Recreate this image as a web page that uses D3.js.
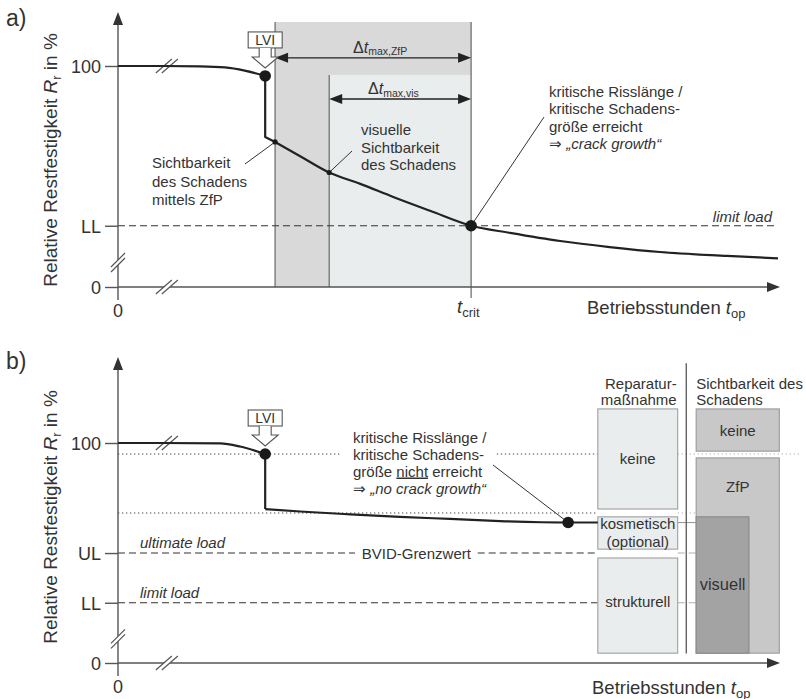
<!DOCTYPE html>
<html>
<head>
<meta charset="utf-8">
<script src="https://cdn.jsdelivr.net/npm/d3@7"></script>
<style>
  body { margin: 0; background: #fff; }
  text { font-family: "Liberation Sans", Arial, Helvetica, sans-serif; fill: #333; }
</style>
</head>
<body>
<svg id="chart" width="806" height="699"></svg>
<script>
// ---------------- data ----------------
// time axis: operating hours in % of the shown range; strength axis: relative residual strength R_r in %
const LL = 55;          // limit load level
const UL = 69;          // ultimate load level
const tLVI = 22.3;      // low velocity impact
const tZfP = 23.8;      // damage detectable by NDT (ZfP)
const tVis = 32.0;      // damage visually detectable
const tCrit = 53.5;     // critical damage size reached
const tBreak = 7.4;     // position of the axis break marks
const yTicksA = [0, LL, 100];
const yTickTextA = ["0", "LL", "100"];
const yTicksB = [0, LL, UL, 100];
const yTickTextB = ["0", "LL", "UL", "100"];

// panel a) strength degradation with crack growth
const preA  = [[0,100],[6.8,100],[12.4,99.9],[16.2,99.6],[19.2,98.7],[22.3,97.2]];
const dropA = [[22.3,97.2],[22.3,80.0],[23.8,78.6]];
const postA = [[23.8,78.6],[27.6,74.6],[32.0,70.0],[36.7,66.8],[41.7,63.1],[47.3,59.2],[53.5,55],
               [59.4,53.0],[67.0,50.7],[74.5,49.0],[82.1,47.6],[92.3,46.5],[100,45.8]];
const bigDotsA   = [[22.3,97.2],[53.5,55]];
const smallDotsA = [[23.8,78.6],[32.0,70.0]];
const shadeTopZfP = 112.4, shadeTopVis = 97.5;
const arrowRZfP = 102.3, arrowRVis = 90.7;

// panel b) no crack growth
const preB  = [[0,100],[6.8,100],[15.5,99.9],[18.5,99.0],[22.3,96.9]];
const dropB = [[22.3,96.9],[22.3,81.4]];
const postB = [[22.3,81.4],[27.6,80.7],[35.2,79.9],[42.7,79.2],[50.3,78.6],[57.9,78.0],[68.2,77.6],[72.7,77.6]];
const bigDotsB = [[22.3,96.9],[68.2,77.6]];
const levelPost = 80.3;   // strength level right after impact (dotted)

// repair measure / damage visibility columns
const repairLabels = [["keine"], ["kosmetisch","(optional)"], ["strukturell"]];
const repairT  = [72.7, 84.8];
const repairR  = [[81.4,109.6],[70.1,79.2],[40.8,67.6]];
const visLabels = ["keine", "ZfP", "visuell"];
const visT = [[87.6,100.2],[87.6,100.2],[87.6,95.6]];
const visR = [[97.7,109.6],[40.8,95.8],[40.8,79.2]];
const tSeparator = 86.1, separatorR = [40.7, 122.5];

// ---------------- scales ----------------
const svg = d3.select("#chart");
const xA = d3.scaleLinear().domain([0, 100]).range([118, 778]);
const yA = d3.scaleLinear().domain([0, 40, 100]).range([287, 279, 66]);
const xB = xA.copy();
const yB = d3.scaleLinear().domain([0, 40, 100]).range([663, 656, 443]);

const INK = "#222", AXIS = "#555";

// ---------------- helpers ----------------
function rich(g, x, y, parts, size, anchor) {
  const t = g.append("text").attr("x", x).attr("y", y)
    .attr("font-size", size).attr("text-anchor", anchor || "start");
  let shifted = 0;
  parts.forEach(p => {
    const sp = t.append("tspan").text(p.s);
    const want = p.sub ? p.shift : 0;
    if (want !== shifted) { sp.attr("dy", want - shifted); shifted = want; }
    if (p.size) sp.attr("font-size", p.size);
    if (p.it) sp.attr("font-style", "italic");
    if (p.u) sp.attr("text-decoration", "underline");
  });
  return t;
}
function lines(g, x, y0, rows, step, size, anchor) {
  rows.forEach((r, i) => {
    if (typeof r === "string") r = [{s: r}];
    rich(g, x, y0 + i * step, r, size, anchor);
  });
}
function breakMark(g, cx, cy, vertical) {
  const pts = vertical
    ? [[cx - 7, cy + 4.5], [cx + 7, cy - 9.5], [cx + 7, cy - 4.5], [cx - 7, cy + 9.5]]
    : [[cx - 11, cy + 7], [cx + 5, cy - 7], [cx + 11, cy - 7], [cx - 5, cy + 7]];
  g.append("polygon").attr("points", pts.map(p => p.join(",")).join(" ")).attr("fill", "#fff");
  [[pts[0], pts[1]], [pts[3], pts[2]]].forEach(([a, b]) =>
    g.append("line").attr("x1", a[0]).attr("y1", a[1]).attr("x2", b[0]).attr("y2", b[1])
      .attr("stroke", AXIS).attr("stroke-width", 1.2));
}
function frame(g, x, y, yMax, ticks, tickText, labelY) {
  const x0 = x(0), y0 = y(0), yTop = y(yMax), xEnd = x(100.3);
  g.append("line").attr("x1", x0).attr("x2", x0).attr("y1", y0 + 13).attr("y2", yTop + 10)
    .attr("stroke", AXIS).attr("stroke-width", 1.4);
  g.append("path").attr("d", `M${x0},${yTop} l5,13 l-10,0 z`).attr("fill", "#333");
  g.append("line").attr("x1", x0).attr("x2", xEnd - 10).attr("y1", y0).attr("y2", y0)
    .attr("stroke", AXIS).attr("stroke-width", 1.4);
  g.append("path").attr("d", `M${xEnd},${y0} l-13,-5 l0,10 z`).attr("fill", "#333");
  const ax = d3.axisLeft(y).tickValues(ticks)
    .tickFormat(d => tickText[ticks.indexOf(d)]).tickSize(13).tickPadding(4);
  g.append("g").attr("transform", `translate(${x0},0)`).call(ax)
    .call(s => s.select(".domain").remove())
    .attr("font-size", 18).attr("font-family", null).attr("color", AXIS)
    .call(s => s.selectAll("line").attr("stroke-width", 1.4))
    .call(s => s.selectAll("text").style("fill", "#333").attr("dy", "0.36em"));
  // y axis title
  rich(g, 0, 0, [{s: "Relative Restfestigkeit "}, {s: "R", it: true},
                 {s: "r", sub: true, shift: 4, size: 13}, {s: " in %"}], 19, "middle")
    .attr("transform", `translate(57,${labelY}) rotate(-90)`);
  // origin label
  g.append("text").attr("x", x0).attr("y", y0 + 30).attr("text-anchor", "middle")
    .attr("font-size", 18).text("0");
  // axis breaks
  breakMark(g, x0, d3.interpolate(y(0), y(LL))(0.4), true);
  breakMark(g, x(tBreak), y0, false);
}
function curve(g, x, y, data, smooth) {
  const ln = d3.line().x(d => x(d[0])).y(d => y(d[1]))
    .curve(smooth ? d3.curveMonotoneX : d3.curveLinear);
  g.append("path").attr("d", ln(data)).attr("fill", "none")
    .attr("stroke", INK).attr("stroke-width", 2.2).attr("stroke-linejoin", "round");
}
function lviGlyph(g, cx, dotY) {
  const top = dotY - 44;
  g.append("rect").attr("x", cx - 17).attr("y", top).attr("width", 34).attr("height", 16)
    .attr("fill", "#fff").attr("stroke", AXIS).attr("stroke-width", 1.1);
  g.append("text").attr("x", cx).attr("y", top + 13).attr("text-anchor", "middle")
    .attr("font-size", 14).text("LVI");
  const b = top + 16, tip = dotY - 8;
  g.append("path")
    .attr("d", `M${cx - 6},${b} L${cx - 6},${tip - 11} L${cx - 13},${tip - 11} L${cx},${tip} L${cx + 13},${tip - 11} L${cx + 6},${tip - 11} L${cx + 6},${b}`)
    .attr("fill", "#fff").attr("stroke", AXIS).attr("stroke-width", 1.1);
}
function dArrow(g, x1, x2, yy) {
  g.append("line").attr("x1", x1 + 6).attr("x2", x2 - 6).attr("y1", yy).attr("y2", yy)
    .attr("stroke", INK).attr("stroke-width", 1.3);
  g.append("path").attr("d", `M${x1},${yy} l13,-5 l0,10 z M${x2},${yy} l-13,-5 l0,10 z`).attr("fill", INK);
}
function leader(g, x1, y1, x2, y2) {
  g.append("line").attr("x1", x1).attr("y1", y1).attr("x2", x2).attr("y2", y2)
    .attr("stroke", "#333").attr("stroke-width", 1);
}
function hseg(g, x, yy, t0, t1, dash, color) {
  g.append("line").attr("x1", x(t0)).attr("x2", x(t1)).attr("y1", yy).attr("y2", yy)
    .attr("stroke", color).attr("stroke-width", 1.1).attr("stroke-dasharray", dash);
}

// ================= panel a =================
const ga = svg.append("g");
ga.append("text").attr("x", 6).attr("y", 26).attr("font-size", 23).text("a)");

// inspection windows
ga.append("rect").attr("x", xA(tZfP)).attr("y", yA(shadeTopZfP))
  .attr("width", xA(tCrit) - xA(tZfP)).attr("height", yA(0) - yA(shadeTopZfP)).attr("fill", "#d9d9d9");
ga.append("rect").attr("x", xA(tVis)).attr("y", yA(shadeTopVis))
  .attr("width", xA(tCrit) - xA(tVis)).attr("height", yA(0) - yA(shadeTopVis)).attr("fill", "#e9eded");
[[tZfP, shadeTopZfP, 0], [tVis, shadeTopVis, 0], [tCrit, shadeTopZfP, 11]].forEach(([t, r, ext]) =>
  ga.append("line").attr("x1", xA(t)).attr("x2", xA(t)).attr("y1", yA(r)).attr("y2", yA(0) + ext)
    .attr("stroke", "#666").attr("stroke-width", 1.2));

// limit load
hseg(ga, xA, yA(LL), 0, 100, "7,4", "#333");
ga.append("text").attr("x", 772).attr("y", yA(LL) - 4).attr("text-anchor", "end")
  .attr("font-size", 15).attr("font-style", "italic").text("limit load");

frame(ga, xA, yA, 115.2, yTicksA, yTickTextA, 160);
breakMark(ga, xA(tBreak), yA(100), false);

// t_crit label
rich(ga, xA(tCrit) - 14, yA(0) + 26, [{s: "t", it: true}, {s: "crit", sub: true, shift: 4, size: 13}], 18.5);
rich(ga, 587, 314, [{s: "Betriebsstunden "}, {s: "t", it: true}, {s: "op", sub: true, shift: 4, size: 13}], 18.5);

// inspection interval arrows
dArrow(ga, xA(tZfP), xA(tCrit), yA(arrowRZfP));
dArrow(ga, xA(tVis), xA(tCrit), yA(arrowRVis));
rich(ga, 353, yA(arrowRZfP) - 5, [{s: "\u0394"}, {s: "t", it: true}, {s: "max,ZfP", sub: true, shift: 2.5, size: 10.5}], 16);
rich(ga, 368, yA(arrowRVis) - 5, [{s: "\u0394"}, {s: "t", it: true}, {s: "max,vis", sub: true, shift: 2.5, size: 10.5}], 16);

// strength curve
curve(ga, xA, yA, preA, true);
curve(ga, xA, yA, dropA, false);
curve(ga, xA, yA, postA, true);

// annotations
leader(ga, 245, 164, xA(smallDotsA[0][0]), yA(smallDotsA[0][1]));
leader(ga, 352, 151, xA(smallDotsA[1][0]), yA(smallDotsA[1][1]));
leader(ga, 544, 117, xA(bigDotsA[1][0]), yA(bigDotsA[1][1]));
lines(ga, 152, 168, ["Sichtbarkeit", "des Schadens", "mittels ZfP"], 18.5, 15);
lines(ga, 361, 135, ["visuelle", "Sichtbarkeit", "des Schadens"], 17.5, 15);
lines(ga, 549, 96.5, ["kritische Risslänge /", "kritische Schadens-", "größe erreicht",
  [{s: "\u21D2 "}, {s: "\u201Ecrack growth\u201C", it: true}]], 17.5, 15);

ga.selectAll("circle.big").data(bigDotsA).join("circle")
  .attr("cx", d => xA(d[0])).attr("cy", d => yA(d[1])).attr("r", 5.8).attr("fill", "#1a1a1a");
ga.selectAll("circle.small").data(smallDotsA).join("circle")
  .attr("cx", d => xA(d[0])).attr("cy", d => yA(d[1])).attr("r", 2.6).attr("fill", "#1a1a1a");
lviGlyph(ga, xA(tLVI), yA(bigDotsA[0][1]));

// ================= panel b =================
const gb = svg.append("g");
gb.append("text").attr("x", 6).attr("y", 369).attr("font-size", 23).text("b)");

// reference levels
const DOT = "1.3,2.7", DASH = "7,4", FAINT = "#b0b0b0";
hseg(gb, xB, yB(bigDotsB[0][1]), 0, 33.9, DOT, "#444");
hseg(gb, xB, yB(bigDotsB[0][1]), 57.4, repairT[0], DOT, "#444");
hseg(gb, xB, yB(bigDotsB[0][1]), repairT[1], 103.6, DOT, FAINT);
hseg(gb, xB, yB(levelPost), 0, repairT[0], DOT, "#444");
hseg(gb, xB, yB(levelPost), repairT[1], visT[0][0], DOT, FAINT);
hseg(gb, xB, yB(UL), 0, 35.9, DASH, "#333");
hseg(gb, xB, yB(UL), 54.5, repairT[0], DASH, "#333");
hseg(gb, xB, yB(UL), repairT[1], visT[0][0], DASH, FAINT);
hseg(gb, xB, yB(LL), 0, repairT[0], DASH, "#333");
hseg(gb, xB, yB(LL), repairT[1], visT[0][0], DASH, FAINT);
hseg(gb, xB, yB(postB[postB.length - 1][1]), repairT[1], visT[0][0], null, "#999");

gb.append("text").attr("x", 140).attr("y", yB(UL) - 5).attr("font-size", 15)
  .attr("font-style", "italic").text("ultimate load");
gb.append("text").attr("x", 140).attr("y", yB(LL) - 5).attr("font-size", 15)
  .attr("font-style", "italic").text("limit load");
gb.append("text").attr("x", xB(45.2)).attr("y", yB(UL) + 5.5).attr("text-anchor", "middle")
  .attr("font-size", 15).text("BVID-Grenzwert");

frame(gb, xB, yB, 124.2, yTicksB, yTickTextB, 517);
breakMark(gb, xB(tBreak), yB(100), false);
rich(gb, 592, 693.5, [{s: "Betriebsstunden "}, {s: "t", it: true}, {s: "op", sub: true, shift: 4, size: 13}], 18.5);

// columns
const repairFill = "#e9eded", visFill = ["#c8c8c8", "#c8c8c8", "#a3a3a3"];
repairR.forEach((r, i) => {
  gb.append("rect").attr("x", xB(repairT[0])).attr("y", yB(r[1]))
    .attr("width", xB(repairT[1]) - xB(repairT[0])).attr("height", yB(r[0]) - yB(r[1]))
    .attr("fill", repairFill).attr("stroke", "#a0a0a0").attr("stroke-width", 1.1);
});
visR.forEach((r, i) => {
  gb.append("rect").attr("x", xB(visT[i][0])).attr("y", yB(r[1]))
    .attr("width", xB(visT[i][1]) - xB(visT[i][0])).attr("height", yB(r[0]) - yB(r[1]))
    .attr("fill", visFill[i]).attr("stroke", i === 2 ? "#888" : "#9a9a9a").attr("stroke-width", 1.1);
});
gb.append("line").attr("x1", xB(tSeparator)).attr("x2", xB(tSeparator))
  .attr("y1", yB(separatorR[0])).attr("y2", yB(separatorR[1])).attr("stroke", AXIS).attr("stroke-width", 1.3);

const repCx = (xB(repairT[0]) + xB(repairT[1])) / 2;
lines(gb, repCx, (yB(repairR[0][0]) + yB(repairR[0][1])) / 2 + 5.5, repairLabels[0], 18, 15, "middle");
lines(gb, repCx, 528.5, repairLabels[1], 18, 15, "middle");
lines(gb, repCx, yB(LL) + 4.5, repairLabels[2], 18, 15, "middle");
lines(gb, xB(repairT[1]) - 1, 388.5, ["Reparatur-", "maßnahme"], 16, 15, "end");
lines(gb, xB(visT[0][0]), 388.5, ["Sichtbarkeit des", "Schadens"], 16, 15, "start");
const visCx = i => (xB(visT[i][0]) + xB(visT[i][1])) / 2;
gb.append("text").attr("x", visCx(0)).attr("y", (yB(visR[0][0]) + yB(visR[0][1])) / 2 + 5.5)
  .attr("text-anchor", "middle").attr("font-size", 15).text(visLabels[0]);
gb.append("text").attr("x", visCx(1)).attr("y", yB(visR[1][1]) + 34)
  .attr("text-anchor", "middle").attr("font-size", 15).text(visLabels[1]);
gb.append("text").attr("x", visCx(2)).attr("y", (yB(visR[2][0]) + yB(visR[2][1])) / 2 + 5)
  .attr("text-anchor", "middle").attr("font-size", 16.5).text(visLabels[2]);

// strength curve
curve(gb, xB, yB, preB, true);
curve(gb, xB, yB, dropB, false);
curve(gb, xB, yB, postB, true);

leader(gb, 493, 465, xB(bigDotsB[1][0]), yB(bigDotsB[1][1]));
lines(gb, 353, 442.5, ["kritische Risslänge /", "kritische Schadens-",
  [{s: "größe "}, {s: "nicht", u: true}, {s: " erreicht"}],
  [{s: "\u21D2 "}, {s: "\u201Eno crack growth\u201C", it: true}]], 17, 15);

gb.selectAll("circle").data(bigDotsB).join("circle")
  .attr("cx", d => xB(d[0])).attr("cy", d => yB(d[1])).attr("r", 5.8).attr("fill", "#1a1a1a");
lviGlyph(gb, xB(tLVI), yB(bigDotsB[0][1]));
</script>
</body>
</html>
